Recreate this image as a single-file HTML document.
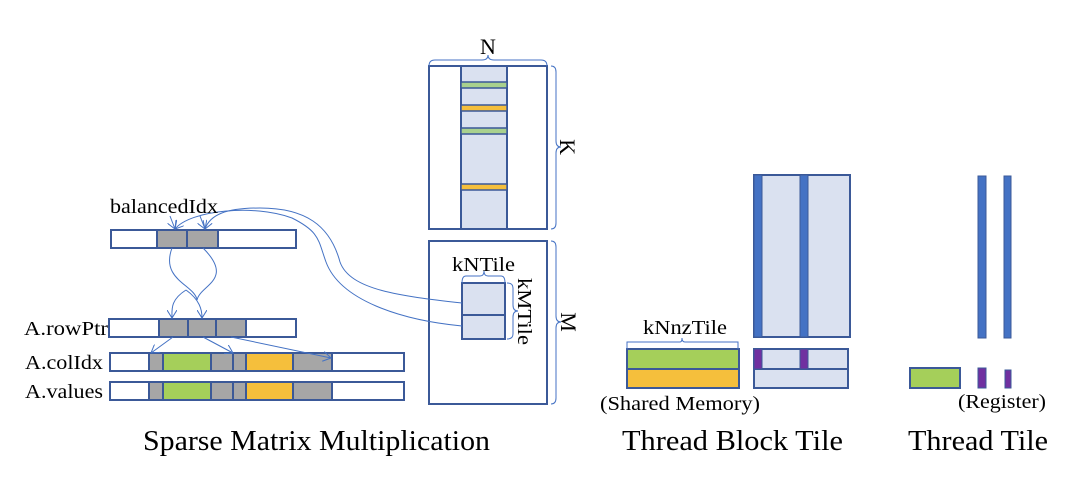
<!DOCTYPE html>
<html><head><style>html,body{margin:0;padding:0;background:#fff}svg{display:block}</style></head>
<body>
<svg width="1080" height="486" viewBox="0 0 1080 486" xmlns="http://www.w3.org/2000/svg" font-family="Liberation Serif, serif">
<defs>
<marker id="ar" markerWidth="10" markerHeight="10" refX="8" refY="5" orient="auto" markerUnits="userSpaceOnUse">
<path d="M0,0 L8,5 L0,10" fill="none" stroke="#4472c4" stroke-width="1"/></marker>
</defs>
<g stroke="#3b5998" stroke-width="2">
<rect x="111" y="230" width="185" height="18" fill="#fff"/>
<rect x="157" y="230" width="30" height="18" fill="#a6a6a6"/>
<rect x="187" y="230" width="31" height="18" fill="#a6a6a6"/>
<rect x="109" y="319" width="187" height="18" fill="#fff"/>
<rect x="159" y="319" width="29" height="18" fill="#a6a6a6"/>
<rect x="188" y="319" width="28" height="18" fill="#a6a6a6"/>
<rect x="216" y="319" width="30" height="18" fill="#a6a6a6"/>
<g id="arr">
<rect x="110" y="353" width="294" height="18" fill="#fff"/>
<rect x="149" y="353" width="14" height="18" fill="#a6a6a6"/>
<rect x="163" y="353" width="48" height="18" fill="#a5cf5a"/>
<rect x="211" y="353" width="22" height="18" fill="#a6a6a6"/>
<rect x="233" y="353" width="13" height="18" fill="#a6a6a6"/>
<rect x="246" y="353" width="47" height="18" fill="#f5bf3c"/>
<rect x="293" y="353" width="39" height="18" fill="#a6a6a6"/>
</g>
<use href="#arr" y="29"/>
<rect x="429" y="66" width="118" height="163" fill="#fff"/>
<rect x="461" y="66" width="46" height="163" fill="#dae1f0"/>
<rect x="461" y="82" width="46" height="6" fill="#a9d18e" stroke-width="1.5"/>
<rect x="461" y="105" width="46" height="6" fill="#f5bf3c" stroke-width="1.5"/>
<rect x="461" y="128" width="46" height="6" fill="#a9d18e" stroke-width="1.5"/>
<rect x="461" y="184" width="46" height="6" fill="#f5bf3c" stroke-width="1.5"/>
<rect x="429" y="241" width="118" height="163" fill="#fff"/>
<rect x="462" y="283" width="43" height="32" fill="#dae1f0"/>
<rect x="462" y="315" width="43" height="24" fill="#dae1f0"/>
<rect x="754" y="175" width="96" height="162" fill="#dae1f0"/>
<rect x="754" y="175" width="8" height="162" fill="#4472c4" stroke-width="1"/>
<rect x="800" y="175" width="8" height="162" fill="#4472c4" stroke-width="1"/>
<rect x="754" y="349" width="94" height="20" fill="#dae1f0"/>
<rect x="754" y="369" width="94" height="19" fill="#dae1f0"/>
<rect x="754" y="349" width="8" height="20" fill="#7030a0" stroke-width="1"/>
<rect x="800" y="349" width="8" height="20" fill="#7030a0" stroke-width="1"/>
<rect x="627" y="349" width="112" height="20" fill="#a5cf5a"/>
<rect x="627" y="369" width="112" height="19" fill="#f5bf3c"/>
<rect x="978" y="176" width="8" height="162" fill="#4472c4" stroke-width="1"/>
<rect x="1004" y="176" width="7" height="162" fill="#4472c4" stroke-width="1"/>
<rect x="910" y="368" width="50" height="20" fill="#a5cf5a"/>
<rect x="978" y="368" width="8" height="20" fill="#7030a0" stroke-width="1"/>
<rect x="1005" y="370" width="6" height="18" fill="#7030a0" stroke-width="1"/>
</g>
<g fill="none" stroke="#4472c4" stroke-width="1">
<path d="M429,66 Q429,60 435,60 L482,60 Q488,60 488,55 Q488,60 494,60 L541,60 Q547,60 547,66"/>
<path d="M551,66 Q556,66 556,72 L556,141 Q556,147 561,147 Q556,147 556,153 L556,223 Q556,229 551,229"/>
<path d="M551,241 Q556,241 556,247 L556,316 Q556,322 561,322 Q556,322 556,328 L556,398 Q556,404 551,404"/>
<path d="M462,283 Q462,276 466,276 L480,276 Q484,276 484,271 Q484,276 488,276 L501,276 Q505,276 505,283"/>
<path d="M507,283 Q513,283 513,288 L513,305 Q513,311 518,311 Q513,311 513,317 L513,334 Q513,339 507,339"/>
<path d="M627,349 L627,342 L680,342 Q682,342 682,338 Q682,342 685,342 L738,342 L738,349"/>
<path d="M172,248 C160,280 195,285 197,300 C200,285 235,280 203,248" />
<path d="M186,290 C170,300 172,310 172,318" marker-end="url(#ar)"/>
<path d="M186,290 C200,300 202,310 202,318" marker-end="url(#ar)"/>
<path d="M173,337 L151,353" marker-end="url(#ar)"/>
<path d="M203,337 L233,353" marker-end="url(#ar)"/>
<path d="M231,337 L331,358" marker-end="url(#ar)"/>
<path d="M170,216 L175,229" marker-end="url(#ar)"/>
<path d="M200,216 L205,229" marker-end="url(#ar)"/>
<path d="M462,303 C400,296 350,290 340,262 C330,225 305,208 260,208 C225,208 210,215 205,229" marker-end="url(#ar)"/>
<path d="M462,326 C400,320 340,300 326,262 C318,240 320,232 292,218 C255,204 190,210 175,229" marker-end="url(#ar)"/>
</g>
<g font-size="20" fill="#000" lengthAdjust="spacingAndGlyphs">
<text x="110" y="213" textLength="108" lengthAdjust="spacingAndGlyphs">balancedIdx</text>
<text x="24" y="335" textLength="84" lengthAdjust="spacingAndGlyphs">A.rowPtr</text>
<text x="25" y="369" textLength="78" lengthAdjust="spacingAndGlyphs">A.colIdx</text>
<text x="25" y="398" textLength="78" lengthAdjust="spacingAndGlyphs">A.values</text>
<text x="488" y="54" font-size="22" text-anchor="middle">N</text>
<text x="452" y="271" textLength="63" lengthAdjust="spacingAndGlyphs">kNTile</text>
<text x="643" y="334" textLength="84" lengthAdjust="spacingAndGlyphs">kNnzTile</text>
<text x="600" y="410" textLength="160" lengthAdjust="spacingAndGlyphs">(Shared Memory)</text>
<text x="958" y="408" textLength="88" lengthAdjust="spacingAndGlyphs">(Register)</text>
<text transform="translate(560,147) rotate(90)" font-size="22" text-anchor="middle">K</text>
<text transform="translate(561,322) rotate(90)" font-size="22" text-anchor="middle">M</text>
<text transform="translate(518,278) rotate(90)" textLength="67" lengthAdjust="spacingAndGlyphs">kMTile</text>
</g>
<g font-size="29" fill="#000">
<text x="143" y="450" textLength="347" lengthAdjust="spacingAndGlyphs">Sparse Matrix Multiplication</text>
<text x="622" y="450" textLength="221" lengthAdjust="spacingAndGlyphs">Thread Block Tile</text>
<text x="908" y="450" textLength="140" lengthAdjust="spacingAndGlyphs">Thread Tile</text>
</g>
</svg>
</body></html>
